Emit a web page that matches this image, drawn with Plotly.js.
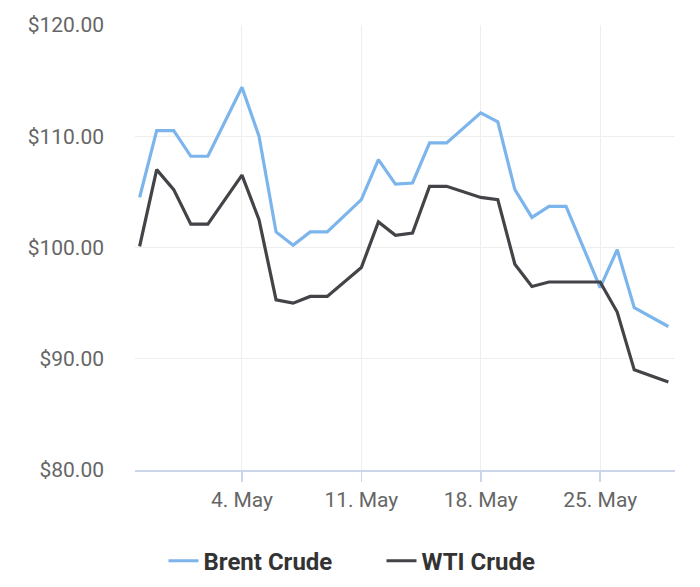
<!DOCTYPE html>
<html>
<head>
<meta charset="utf-8">
<script src="https://cdn.plot.ly/plotly-3.0.1.min.js"></script>
<style>
  html, body { margin:0; padding:0; background:#fff; }
  #chart { width:700px; height:587px; }
</style>
</head>
<body>
<div id="chart"></div>
<script>
  // --------- Datos ---------
  const dates = [
    '2022-04-28','2022-04-29','2022-04-30','2022-05-01','2022-05-02',
    '2022-05-04','2022-05-05','2022-05-06','2022-05-07','2022-05-08','2022-05-09',
    '2022-05-11','2022-05-12','2022-05-13','2022-05-14','2022-05-15','2022-05-16',
    '2022-05-18','2022-05-19','2022-05-20','2022-05-21','2022-05-22','2022-05-23',
    '2022-05-25','2022-05-26','2022-05-27','2022-05-29'
  ];
  const brent = [
    104.5, 110.5, 110.5, 108.2, 108.2,
    114.4, 110.0, 101.4, 100.2, 101.4, 101.4,
    104.3, 107.9, 105.7, 105.8, 109.4, 109.4,
    112.1, 111.3, 105.2, 102.7, 103.7, 103.7,
    96.4, 99.8, 94.6, 92.9
  ];
  const wti = [
    100.1, 107.0, 105.2, 102.1, 102.1,
    106.5, 102.5, 95.3, 95.0, 95.6, 95.6,
    98.2, 102.3, 101.1, 101.3, 105.5, 105.5,
    104.5, 104.3, 98.5, 96.5, 96.9, 96.9,
    96.9, 94.2, 89.0, 87.9
  ];
  const xTickVals = ['2022-05-04','2022-05-11','2022-05-18','2022-05-25'];
  const xTickText = ['4. May','11. May','18. May','25. May'];
  const yTickVals = [80, 90, 100, 110, 120];
  const yTickText = ['$80.00','$90.00','$100.00','$110.00','$120.00'];

  // --------- Estilo ---------
  const FONT = 'Roboto, "Noto Sans", sans-serif';

  const traces = [
    { x: dates, y: brent, name: 'Brent Crude', type: 'scatter', mode: 'lines',
      line: { color: '#7cb5ec', width: 3.2 } },
    { x: dates, y: wti, name: 'WTI Crude', type: 'scatter', mode: 'lines',
      line: { color: '#434348', width: 3.2 } }
  ];

  const layout = {
    width: 700, height: 587,
    margin: { l: 135, r: 25, t: 25, b: 117 },
    paper_bgcolor: '#fff', plot_bgcolor: '#fff',
    font: { family: FONT, size: 21, color: '#666666' },
    showlegend: true,
    legend: {
      orientation: 'h', xref: 'container', yref: 'container',
      x: 0.545, xanchor: 'center', y: 0.044, yanchor: 'middle',
      font: { family: FONT, size: 24, color: '#333333', weight: 'bold' },
      itemwidth: 30, entrywidth: 173, tracegroupgap: 0
    },
    xaxis: {
      type: 'date',
      range: ['2022-04-27 17:30', '2022-05-29 09:20'],
      tickvals: xTickVals, ticktext: xTickText,
      showgrid: true, gridcolor: '#eeeeee', gridwidth: 1,
      showline: true, linecolor: '#ccd6eb', linewidth: 1.5,
      ticks: 'outside', ticklen: 10, tickcolor: '#ccd6eb', tickwidth: 1.5,
      tickfont: { family: FONT, size: 21, color: '#666666' },
      zeroline: false, fixedrange: true
    },
    yaxis: {
      range: [80, 120],
      tickvals: yTickVals, ticktext: yTickText,
      showgrid: true, gridcolor: '#eeeeee', gridwidth: 1,
      showline: false, zeroline: false,
      ticks: '', ticklabelstandoff: 30,
      tickfont: { family: FONT, size: 21, color: '#666666' },
      fixedrange: true
    }
  };

  Plotly.newPlot('chart', traces, layout, { displayModeBar: false, staticPlot: true });
</script>
</body>
</html>
